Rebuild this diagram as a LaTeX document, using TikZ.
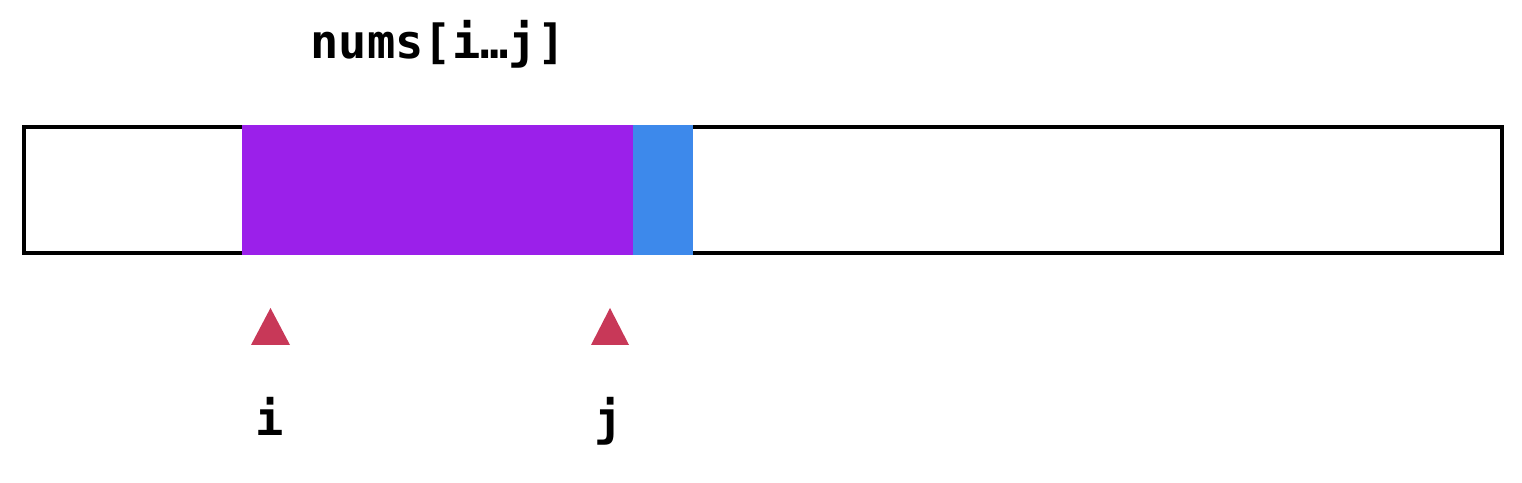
\documentclass[tikz,border=0pt]{standalone}
\usepackage{fontspec}
\newfontfamily\codefont{DejaVu Sans Mono}[BoldFont={DejaVu Sans Mono Bold}]
\definecolor{cellpurple}{RGB}{155,32,234}
\definecolor{cellblue}{RGB}{61,137,235}
\definecolor{ptrred}{RGB}{200,56,88}
\tikzset{
  codetext/.style={font=\codefont\bfseries\fontsize{47}{52}\selectfont, anchor=base, inner sep=0pt},
  ptr/.style={fill=ptrred, draw=none},
}
\begin{document}
\begin{tikzpicture}[x=1pt,y=1pt]
\useasboundingbox (0,0) rectangle (1522,482);
\fill[white] (0,0) rectangle (1522,482);
% array outline
\draw[line width=3.5pt] (24,229) rectangle (1502,355);
% highlighted cells
\fill[cellpurple] (242,227) rectangle (633,357);
\fill[cellblue] (633,227) rectangle (693,357);
% title
\node[codetext] (title) at (438,423) {nums[i…j]};
% pointers
\fill[ptr] (251,137) -- (290,137) -- (270.5,174) -- cycle;
\fill[ptr] (591,137) -- (629,137) -- (610,174) -- cycle;
\node[codetext] (li) at (270,47) {i};
\node[codetext] (lj) at (609,47) {j};
\end{tikzpicture}
\end{document}
